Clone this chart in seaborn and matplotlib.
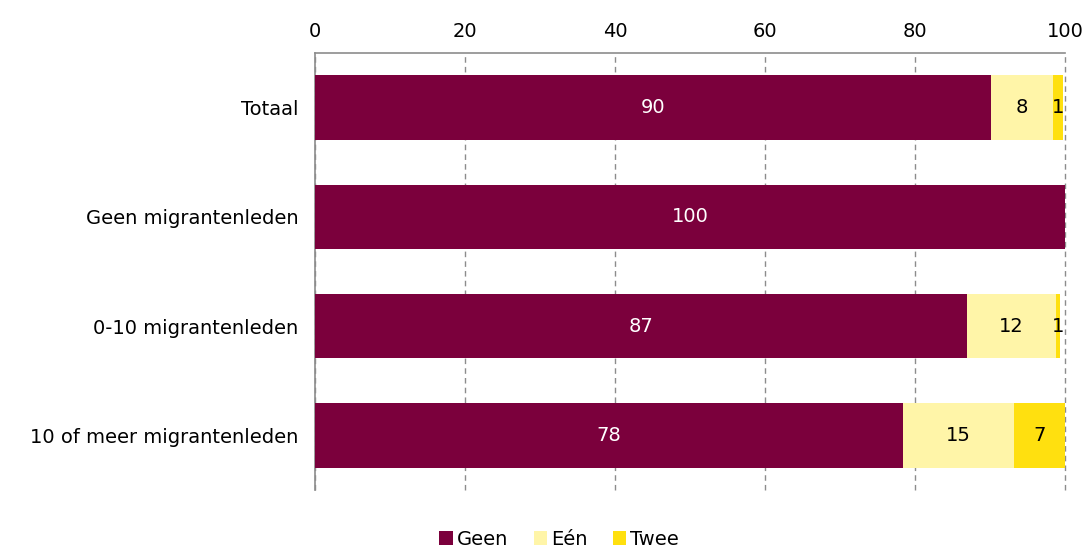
import numpy as np
import pandas as pd
import matplotlib
matplotlib.use('Agg')
import matplotlib.pyplot as plt
import seaborn as sns
from matplotlib.patches import Patch

sns.set_theme(style='white')
plt.rcParams['font.family'] = ['DejaVu Sans']
plt.rcParams['text.color'] = 'black'

categories = ['Totaal', 'Geen migrantenleden', '0-10 migrantenleden', '10 of meer migrantenleden']
geen = [90.1, 100.0, 86.9, 78.3]
een = [8.2, 0.0, 11.8, 14.8]
twee = [1.4, 0.0, 0.6, 6.9]
labels_geen = ['90', '100', '87', '78']
labels_een = ['8', '', '12', '15']
labels_twee = ['1', '', '1', '7']

series = ['Geen', 'Eén', 'Twee']
colors = {'Geen': '#7b003c', 'Eén': '#fff5a8', 'Twee': '#ffe00f'}

df = pd.DataFrame({'cat': categories, 'Geen': geen, 'Eén': een, 'Twee': twee})
df['c_geen'] = df['Geen']
df['c_een'] = df['Geen'] + df['Eén']
df['c_twee'] = df['c_een'] + df['Twee']

fig = plt.figure(figsize=(10.86, 5.47), dpi=100)
ax = fig.add_axes([0.290, 0.104, 0.691, 0.799])

# stacked look: draw cumulative bars from longest to shortest
for col, name in [('c_twee', 'Twee'), ('c_een', 'Eén'), ('c_geen', 'Geen')]:
    sns.barplot(data=df, y='cat', x=col, color=colors[name], width=0.59,
                orient='h', saturation=1, linewidth=0, ax=ax, zorder=3)

fs = 14
for i in range(len(categories)):
    ax.text(geen[i] / 2, i, labels_geen[i], ha='center', va='center', color='white', fontsize=fs, zorder=4)
    if labels_een[i]:
        ax.text(geen[i] + een[i] / 2, i, labels_een[i], ha='center', va='center', color='black', fontsize=fs, zorder=4)
    if labels_twee[i]:
        ax.text(geen[i] + een[i] + twee[i] / 2, i, labels_twee[i], ha='center', va='center', color='black', fontsize=fs, zorder=4)

ax.set_xlim(0, 100)
ax.set_ylim(3.5, -0.5)
ax.set_xticks(range(0, 101, 20))
ax.xaxis.tick_top()
ax.tick_params(axis='x', length=0, labelsize=fs, pad=9, colors='black')
ax.tick_params(axis='y', length=0, labelsize=fs, pad=12, colors='black')
ax.set_xlabel('')
ax.set_ylabel('')
ax.grid(axis='x', color='#8c8c8c', linestyle=(0, (4, 3)), linewidth=1, zorder=0)
for gl in ax.get_xgridlines():
    gl.set_clip_on(False)
for s in ['right', 'bottom']:
    ax.spines[s].set_visible(False)
for s in ['top', 'left']:
    ax.spines[s].set_color('#8c8c8c')
    ax.spines[s].set_linewidth(1.2)

handles = [Patch(facecolor=colors[s], edgecolor='none', label=s) for s in series]
fig.legend(handles=handles, loc='lower center', bbox_to_anchor=(0.515, -0.035), ncol=3,
           frameon=False, fontsize=fs, handlelength=0.7, handleheight=0.7,
           handletextpad=0.2, columnspacing=1.3, labelcolor='black')

fig.savefig('out.png', dpi=100)
